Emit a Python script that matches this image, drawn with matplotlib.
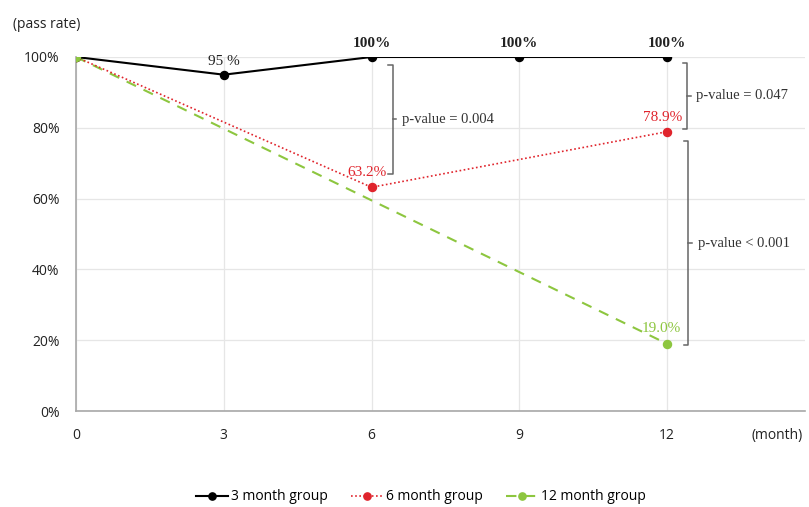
import matplotlib
matplotlib.use("Agg")
import matplotlib.pyplot as plt

months_3 = [0, 3, 6, 9, 12]
rate_3 = [100, 95, 100, 100, 100]
months_6 = [0, 6, 12]
rate_6 = [100, 63.2, 78.9]
months_12 = [0, 12]
rate_12 = [100, 19.0]
xticks = [0, 3, 6, 9, 12]
yticks = [0, 20, 40, 60, 80, 100]
labels_3 = ["", "95 %", "100%", "100%", "100%"]
labels_6 = ["", "63.2%", "78.9%"]
labels_12 = ["", "19.0%"]

BLACK = "#000000"
RED = "#e0242c"
GREEN = "#8dc63f"
SERIF = "Liberation Serif"
SANS = "Open Sans"

fig = plt.figure(figsize=(8.09, 5.07), dpi=100)
ax = fig.add_axes([0.094, 0.1893, 0.901, 0.6983])

MS = 5.8
ax.plot(months_12, rate_12, color=GREEN, lw=1.5, ls=(0, (5, 4)), marker="o", ms=MS, zorder=3,
        label="12 month group")
ax.plot(months_6, rate_6, color=RED, lw=1.2, ls=(0, (1, 1.5)), marker="o", ms=MS, zorder=4,
        label="6 month group")
ax.plot(months_3, rate_3, color=BLACK, lw=1.5, marker="o", ms=MS, zorder=5,
        label="3 month group")
ax.plot(months_12[:1], rate_12[:1], color=GREEN, marker="o", ms=MS, ls="none", zorder=6)

ax.set_xlim(0, 14.8)
ax.set_ylim(0, 100)
ax.set_xticks(xticks)
ax.set_xticklabels([str(t) for t in xticks], fontfamily=SANS, fontsize=10, color="#222222")
ax.set_yticks(yticks)
ax.set_yticklabels([f"{t}%" for t in yticks], fontfamily=SANS, fontsize=10, color="#222222")
ax.tick_params(axis="x", length=0, pad=12)
ax.tick_params(axis="y", length=0, pad=12)
ax.grid(True, color="#e6e6e6", lw=0.9)
ax.set_axisbelow(True)
for s in ["top", "right"]:
    ax.spines[s].set_visible(False)
for s in ["left", "bottom"]:
    ax.spines[s].set_color("#a8a8a8")
    ax.spines[s].set_linewidth(1.2)

# point labels
for x, y, t in zip(months_3, rate_3, labels_3):
    if t:
        ax.text(x, y + 2.0, t, ha="center", va="bottom", fontfamily=SERIF, fontsize=11,
                fontweight="bold" if t == "100%" else "normal", color="#222222")
for x, y, t in zip(months_6, rate_6, labels_6):
    if t:
        ax.text(x - 0.1, y + 2.2, t, ha="center", va="bottom", fontfamily=SERIF, fontsize=11, color=RED)
for x, y, t in zip(months_12, rate_12, labels_12):
    if t:
        ax.text(x - 0.12, y + 2.6, t, ha="center", va="bottom", fontfamily=SERIF, fontsize=11, color=GREEN)

# brackets
def bracket(x, y0, y1, text, tx):
    c = "#666666"
    ax.plot([x - 0.09, x, x, x - 0.09], [y0, y0, y1, y1], color=c, lw=1.1, clip_on=False)
    ym = (y0 + y1) / 2
    ax.plot([x, x + 0.07], [ym, ym], color=c, lw=1.1, clip_on=False)
    ax.text(tx, ym, text, ha="left", va="center", fontfamily=SERIF, fontsize=10.5, color="#333333")

bracket(6.43, 97.7, 67.0, "p-value = 0.004", 6.62)
bracket(12.41, 98.3, 79.7, "p-value = 0.047", 12.58)
bracket(12.43, 76.3, 18.6, "p-value < 0.001", 12.63)

fig.text(13 / 809, 1 - 24 / 507, "(pass rate)", ha="left", va="center", fontfamily=SANS, fontsize=10, color="#222222")
fig.text(752 / 809, 1 - 435 / 507, "(month)", ha="left", va="center", fontfamily=SANS, fontsize=10, color="#222222")

handles, labels = ax.get_legend_handles_labels()
order = [2, 1, 0]
fig.legend([handles[i] for i in order], [labels[i] for i in order], loc="center",
           bbox_to_anchor=(421 / 809, 1 - 497 / 507), ncol=3, frameon=False,
           prop={"family": SANS, "size": 10}, handlelength=2.3, columnspacing=1.7,
           handletextpad=0.2, markerscale=0.9)

fig.savefig("out.png", dpi=100)
